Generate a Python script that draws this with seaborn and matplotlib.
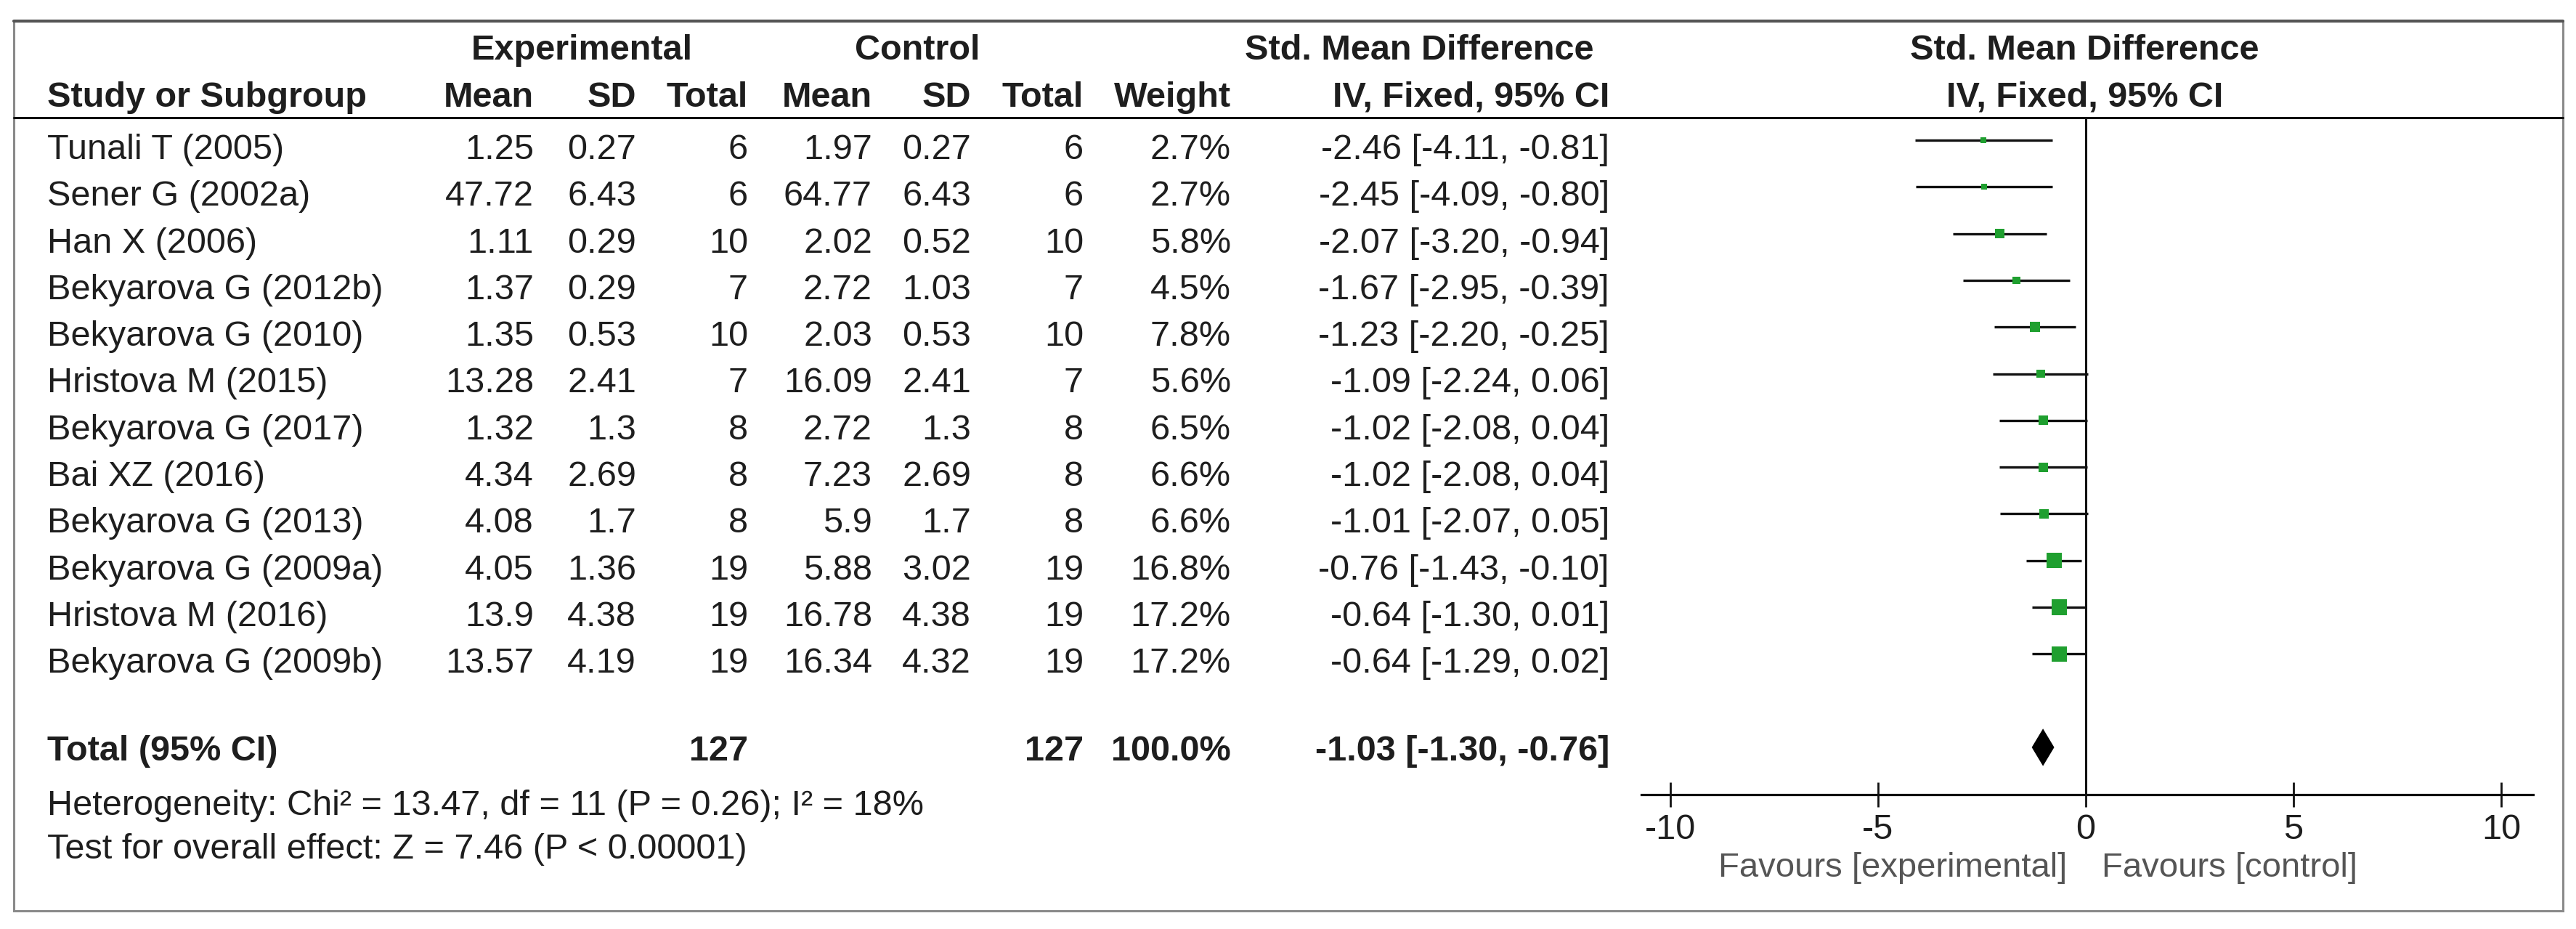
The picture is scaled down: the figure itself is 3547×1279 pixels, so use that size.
import matplotlib
matplotlib.use('Agg')
import matplotlib.pyplot as plt
import seaborn as sns
import pandas as pd
from matplotlib.patches import Rectangle

# data
studies = ['Tunali T (2005)', 'Sener G (2002a)', 'Han X (2006)', 'Bekyarova G (2012b)',
           'Bekyarova G (2010)', 'Hristova M (2015)', 'Bekyarova G (2017)', 'Bai XZ (2016)',
           'Bekyarova G (2013)', 'Bekyarova G (2009a)', 'Hristova M (2016)', 'Bekyarova G (2009b)']
exp_mean = [1.25, 47.72, 1.11, 1.37, 1.35, 13.28, 1.32, 4.34, 4.08, 4.05, 13.9, 13.57]
exp_sd = [0.27, 6.43, 0.29, 0.29, 0.53, 2.41, 1.3, 2.69, 1.7, 1.36, 4.38, 4.19]
exp_n = [6, 6, 10, 7, 10, 7, 8, 8, 8, 19, 19, 19]
ctl_mean = [1.97, 64.77, 2.02, 2.72, 2.03, 16.09, 2.72, 7.23, 5.9, 5.88, 16.78, 16.34]
ctl_sd = [0.27, 6.43, 0.52, 1.03, 0.53, 2.41, 1.3, 2.69, 1.7, 3.02, 4.38, 4.32]
ctl_n = [6, 6, 10, 7, 10, 7, 8, 8, 8, 19, 19, 19]
weight = [2.7, 2.7, 5.8, 4.5, 7.8, 5.6, 6.5, 6.6, 6.6, 16.8, 17.2, 17.2]
smd = [-2.46, -2.45, -2.07, -1.67, -1.23, -1.09, -1.02, -1.02, -1.01, -0.76, -0.64, -0.64]
ci_low = [-4.11, -4.09, -3.20, -2.95, -2.20, -2.24, -2.08, -2.08, -2.07, -1.43, -1.30, -1.29]
ci_high = [-0.81, -0.80, -0.94, -0.39, -0.25, 0.06, 0.04, 0.04, 0.05, -0.10, 0.01, 0.02]

total_exp_n = 127
total_ctl_n = 127
total_weight = 100.0
total_smd = -1.03
total_low = -1.30
total_high = -0.76
heterogeneity = 'Heterogeneity: Chi\u00b2 = 13.47, df = 11 (P = 0.26); I\u00b2 = 18%'
overall_test = 'Test for overall effect: Z = 7.46 (P < 0.00001)'
axis_ticks = [-10, -5, 0, 5, 10]

# layout (pixels)
W, H = 3548, 1279
ROW0, ROW_H = 193, 64.3
ZERO_X, PX_UNIT = 2872, 57.2
FS = 35
TXT = '#1e1e1e'
GREEN = '#1f9f2f'

sns.set_theme(style='white')
plt.rcParams['font.family'] = ['Liberation Sans', 'DejaVu Sans']

fig = plt.figure(figsize=(W / 100, H / 100), dpi=100, facecolor='white')
bg = fig.add_axes([0, 0, 1, 1])
bg.set_xlim(0, W)
bg.set_ylim(H, 0)
bg.axis('off')

# frame and header rule
bg.add_patch(Rectangle((19, 29), 3510, 1225, fill=False, ec='#8a8a8a', lw=2.2))
bg.plot([19, 3529], [29, 29], color='#555555', lw=3)
bg.plot([19, 3529], [162, 162], color='#111111', lw=2.2)


def txt(x, y, s, ha='right', bold=False, color=TXT):
    bg.text(x, y, s, ha=ha, va='baseline', fontsize=FS, color=color,
            fontweight='bold' if bold else 'normal')


def fmt(v):
    return '{:g}'.format(v)


# column right edges
c_name = 65
c_em, c_es, c_en = 735, 876, 1030
c_cm, c_cs, c_cn = 1201, 1337, 1492
c_w, c_ci = 1695, 2216

# headers
txt(801, 82, 'Experimental', ha='center', bold=True)
txt(1263, 82, 'Control', ha='center', bold=True)
txt(2195, 82, 'Std. Mean Difference', bold=True)
txt(2870, 82, 'Std. Mean Difference', ha='center', bold=True)
txt(c_name, 147, 'Study or Subgroup', ha='left', bold=True)
for x, s in [(c_em, 'Mean'), (c_es, 'SD'), (c_en, 'Total'), (c_cm, 'Mean'),
             (c_cs, 'SD'), (c_cn, 'Total'), (c_w, 'Weight'), (c_ci, 'IV, Fixed, 95% CI')]:
    txt(x, 147, s, bold=True)
txt(2871, 147, 'IV, Fixed, 95% CI', ha='center', bold=True)

# study rows
for i, name in enumerate(studies):
    y = ROW0 + ROW_H * i + 26
    txt(c_name, y, name, ha='left')
    txt(c_em, y, fmt(exp_mean[i]))
    txt(c_es, y, fmt(exp_sd[i]))
    txt(c_en, y, str(exp_n[i]))
    txt(c_cm, y, fmt(ctl_mean[i]))
    txt(c_cs, y, fmt(ctl_sd[i]))
    txt(c_cn, y, str(ctl_n[i]))
    txt(c_w, y, '%.1f%%' % weight[i])
    txt(c_ci, y, '%.2f [%.2f, %.2f]' % (smd[i], ci_low[i], ci_high[i]))

# total row
total_row = len(studies) + 1
ty = ROW0 + ROW_H * total_row + 18
txt(c_name, ty, 'Total (95% CI)', ha='left', bold=True)
txt(c_en, ty, str(total_exp_n), bold=True)
txt(c_cn, ty, str(total_ctl_n), bold=True)
txt(c_w, ty, '%.1f%%' % total_weight, bold=True)
txt(c_ci, ty, '%.2f [%.2f, %.2f]' % (total_smd, total_low, total_high), bold=True)
txt(c_name, 1122, heterogeneity, ha='left')
txt(c_name, 1182, overall_test, ha='left')

# forest panel
ax_l, ax_r, ax_t, ax_b = 2260, 3488, 162, 1094
fx = fig.add_axes([ax_l / W, 1 - ax_b / H, (ax_r - ax_l) / W, (ax_b - ax_t) / H])
fx.patch.set_alpha(0)

df = pd.DataFrame({'study': studies, 'smd': smd, 'low': ci_low, 'high': ci_high,
                   'weight': weight, 'row': range(len(studies))})

fx.axvline(0, color='#111111', lw=2.2, zorder=1)
fx.hlines(df['row'], df['low'], df['high'], color='#111111', lw=2.4, zorder=2)
sns.scatterplot(data=df, x='smd', y='row', size='weight', sizes=(36, 229),
                size_norm=(2.7, 17.2), marker='s', color=GREEN, linewidth=0,
                legend=False, ax=fx, zorder=3)
fx.fill([total_low, total_smd, total_high, total_smd],
        [total_row, total_row - 0.4, total_row, total_row + 0.4],
        color='black', lw=0, zorder=3)

fx.set_xlim((ax_l - ZERO_X) / PX_UNIT, (ax_r - ZERO_X) / PX_UNIT)
fx.set_ylim((ax_b - ROW0) / ROW_H, (ax_t - ROW0) / ROW_H)
fx.set_xlabel('')
fx.set_ylabel('')
fx.set_yticks([])
fx.set_xticks(axis_ticks)
fx.set_xticklabels([str(t) for t in axis_ticks])
fx.tick_params(axis='x', direction='inout', length=25, width=2, color='#111111',
               pad=6, labelsize=FS, labelcolor=TXT, bottom=True)
for side in ['top', 'left', 'right']:
    fx.spines[side].set_visible(False)
fx.spines['bottom'].set_color('#111111')
fx.spines['bottom'].set_linewidth(2.3)

fav_y = (1207 - ROW0) / ROW_H
fx.text(-0.45, fav_y, 'Favours [experimental]', ha='right', va='baseline',
        fontsize=FS - 1, color='#555555', clip_on=False)
fx.text(0.38, fav_y, 'Favours [control]', ha='left', va='baseline',
        fontsize=FS - 1, color='#555555', clip_on=False)

fig.savefig('out.png', dpi=100, facecolor='white')
